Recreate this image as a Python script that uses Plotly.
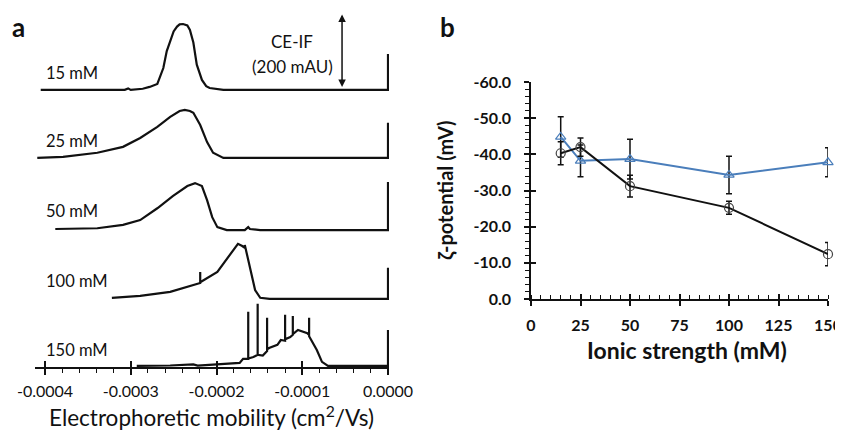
import plotly.graph_objects as go

W, H = 843, 431
OX, OY = 8, 8            # the page body margin shifts the figure by this much
FW, FH = W - OX, H - OY

# ---- panel a : CE-IF traces (mobility cm2/Vs, signal in mAU above each baseline)
labels_a = ['15 mM', '25 mM', '50 mM', '100 mM', '150 mM']
offsets_a = [749, 565, 370, 184, 3]   # vertical stacking of the traces (mAU)

mob_15 = [-0.000405, -0.000307, -0.000303, -0.000300, -0.000286, -0.000278, -0.000269,
          -0.000262, -0.000258, -0.000254, -0.000250, -0.000246, -0.000243, -0.000239,
          -0.000234, -0.000231, -0.000227, -0.000223, -0.000217, -0.000212, -0.000208,
          -0.000192, 0.0, 0.0]
sig_15 = [0, 0, 4, 0, 3, 8, 16, 59, 105, 132, 158, 171, 177, 178, 174, 162, 128, 68,
          27, 10, 5, 0, 0, 97]

mob_25 = [-0.000409, -0.000379, -0.000339, -0.000309, -0.000289, -0.000269, -0.000254,
          -0.000243, -0.000237, -0.000231, -0.000227, -0.000219, -0.000211, -0.000204,
          -0.000192, 0.0, 0.0]
sig_25 = [0, 3, 14, 30, 54, 84, 111, 127, 130, 127, 122, 89, 43, 14, 0, 0, 95]

mob_50 = [-0.000388, -0.000339, -0.000309, -0.000289, -0.000269, -0.000251, -0.000234,
          -0.000225, -0.000217, -0.000211, -0.000205, -0.000199, -0.000188, -0.000167,
          -0.000163, -0.000161, -0.000149, 0.0, 0.0]
sig_50 = [3, 5, 14, 27, 59, 92, 119, 127, 119, 81, 35, 8, 0, 0, 8, 3, 0, 0, 130]

mob_100 = [-0.000322, -0.000289, -0.000254, -0.000219, -0.000219, -0.000219, -0.000199,
           -0.000184, -0.000175, -0.000170, -0.000167, -0.000167, -0.000166, -0.000161,
           -0.000155, -0.000149, -0.000138, 0.0, 0.0]
sig_100 = [3, 8, 19, 43, 73, 45, 73, 119, 149, 143, 138, 146, 136, 78, 24, 3, 0, 0, 84]

mob_150 = [-0.000293, -0.000254, -0.000227, -0.000222, -0.000173, -0.000169,
           -0.000163, -0.000163, -0.000163, -0.000157, -0.000152, -0.000152, -0.000152,
           -0.000146, -0.000141, -0.000141, -0.000141, -0.000138, -0.000129, -0.000125,
           -0.000120, -0.000120, -0.000120, -0.000114, -0.000111, -0.000111, -0.000111,
           -0.000105, -0.000099, -0.000094, -0.000092, -0.000092, -0.000092, -0.000083,
           -0.000077, -0.000070, 0.0, 0.0]
sig_150 = [0, 1, 4, 1, 8, 19, 19, 146, 20, 24, 30, 168, 30, 28, 40, 130, 45, 49, 57, 70,
           68, 138, 72, 78, 84, 135, 86, 97, 92, 88, 84, 130, 80, 43, 11, 0, 0, 97]

mob_a = [mob_15, mob_25, mob_50, mob_100, mob_150]
sig_a = [sig_15, sig_25, sig_50, sig_100, sig_150]

ticks_a = [-0.0004, -0.0003, -0.0002, -0.0001, 0.0]
ticktext_a = ['-0.0004', '-0.0003', '-0.0002', '-0.0001', '0.0000']

# ---- panel b : zeta potential vs ionic strength
ionic = [15, 25, 50, 100, 150]
zeta_black = [-40.3, -42.0, -31.2, -25.2, -12.4]
err_black = [3.2, 2.5, 3.0, 1.8, 3.2]
zeta_blue = [-44.8, -38.2, -38.7, -34.3, -37.8]
err_blue = [5.6, 4.4, 5.5, 5.2, 4.0]

ticks_b_x = [0, 25, 50, 75, 100, 125, 150]
ticks_b_y = [0, -10, -20, -30, -40, -50, -60]
ticktext_b_y = ['0.0', '-10.0', '-20.0', '-30.0', '-40.0', '-50.0', '-60.0']

FONT = 'Lato'
INK = '#111111'
BLUE = '#4a7ebb'


def px(x):
    return (x - OX) / FW


def py(y):
    return 1 - (y - OY) / FH


fig = go.Figure()

for m, s, off in zip(mob_a, sig_a, offsets_a):
    fig.add_trace(go.Scatter(x=m, y=[v + off for v in s], mode='lines',
                             line=dict(color=INK, width=2.2), showlegend=False,
                             xaxis='x', yaxis='y'))
# helper trace so the overlay axis (inner half of the crossing ticks) is drawn
fig.add_trace(go.Scatter(x=[None], y=[None], xaxis='x3', yaxis='y', showlegend=False))

fig.add_trace(go.Scatter(x=ionic, y=zeta_blue, mode='lines+markers',
                         line=dict(color=BLUE, width=2),
                         marker=dict(symbol='triangle-up-open', size=9, color=BLUE,
                                     line=dict(width=1.2)),
                         error_y=dict(type='data', array=err_blue, color=INK,
                                      thickness=1.5, width=3),
                         cliponaxis=False, showlegend=False, xaxis='x2', yaxis='y2'))
fig.add_trace(go.Scatter(x=ionic, y=zeta_black, mode='lines+markers',
                         line=dict(color=INK, width=2),
                         marker=dict(symbol='circle-open', size=9, color='#444',
                                     line=dict(width=1.2)),
                         error_y=dict(type='data', array=err_black, color=INK,
                                      thickness=1.5, width=3),
                         cliponaxis=False, showlegend=False, xaxis='x2', yaxis='y2'))
fig.add_trace(go.Scatter(x=[None], y=[None], xaxis='x4', yaxis='y2', showlegend=False))
fig.add_trace(go.Scatter(x=[None], y=[None], xaxis='x2', yaxis='y3', showlegend=False))

xa_dom = [px(35), px(389)]
xa_rng = [-0.000411662, 0.00000117]
ya_dom = [py(367), 1]
ya_rng = [0, (367 - OY) * 200 / 74]

xb_dom = [px(531), px(828)]
yb_dom = [py(299), py(82)]

axis_common = dict(showgrid=False, zeroline=False, linecolor=INK, tickcolor=INK,
                   tickwidth=1.5, automargin=False)

fig.update_layout(
    width=FW, height=FH,
    margin=dict(l=0, r=0, t=0, b=0, pad=0),
    paper_bgcolor='white', plot_bgcolor='white',
    font=dict(family=FONT, color=INK),
    xaxis=dict(domain=xa_dom, range=xa_rng, anchor='y', showline=True, linewidth=1.5,
               tickmode='array', tickvals=ticks_a, ticktext=ticktext_a,
               ticks='outside', ticklen=6, ticklabelstandoff=3,
               tickfont=dict(size=16, color=INK),
               minor=dict(tickmode='linear', tick0=0, dtick=0.00002, ticks='outside',
                          ticklen=4, tickcolor=INK, tickwidth=1.2),
               **axis_common),
    xaxis3=dict(overlaying='x', domain=xa_dom, range=xa_rng, anchor='y', showline=False,
                tickmode='array', tickvals=ticks_a, ticks='inside', ticklen=6,
                showticklabels=False, **axis_common),
    yaxis=dict(domain=ya_dom, range=ya_rng, visible=False, anchor='x', automargin=False),
    xaxis2=dict(domain=xb_dom, range=[0, 150], anchor='y2', showline=True, linewidth=1.5,
                tickmode='array', tickvals=ticks_b_x,
                ticks='outside', ticklen=5, ticklabelstandoff=6,
                tickfont=dict(size=16, color=INK, weight='bold'),
                minor=dict(tickmode='linear', tick0=0, dtick=5, ticks='inside',
                           ticklen=4, tickcolor=INK, tickwidth=1.2),
                **axis_common),
    xaxis4=dict(overlaying='x2', domain=xb_dom, range=[0, 150], anchor='y2',
                showline=False, tickmode='array', tickvals=ticks_b_x,
                ticks='inside', ticklen=5, showticklabels=False, **axis_common),
    yaxis2=dict(domain=yb_dom, range=[0, -60], anchor='x2', showline=True, linewidth=1.5,
                tickmode='array', tickvals=ticks_b_y, ticktext=ticktext_b_y,
                ticks='outside', ticklen=5, ticklabelstandoff=10,
                tickfont=dict(size=16, color=INK, weight='bold'),
                minor=dict(tickmode='linear', tick0=0, dtick=2, ticks='outside',
                           ticklen=4, tickcolor=INK, tickwidth=1.2),
                **axis_common),
    yaxis3=dict(overlaying='y2', domain=yb_dom, range=[0, -60], anchor='x2',
                showline=False, tickmode='array', tickvals=ticks_b_y, ticks='inside',
                ticklen=5, showticklabels=False, **axis_common),
)

ann = []
ann.append(dict(text='<b>a</b>', x=px(18), y=py(27), font=dict(size=26)))
ann.append(dict(text='<b>b</b>', x=px(447), y=py(27), font=dict(size=26)))
label_y = [73, 141, 211, 281, 350]
for lab, ly in zip(labels_a, label_y):
    ann.append(dict(text=lab, x=px(44), y=py(ly), xanchor='left', font=dict(size=16.5)))
ann.append(dict(text='CE-IF', x=px(292), y=py(41), font=dict(size=17)))
ann.append(dict(text='(200 mAU)', x=px(292), y=py(67), font=dict(size=17)))
ann.append(dict(text='Electrophoretic mobility (cm<sup>2</sup>/Vs)', x=px(211), y=py(416),
                font=dict(size=22.5)))
ann.append(dict(text='<b>ζ-potential (mV)</b>', x=px(445), y=py(190), textangle=-90,
                font=dict(size=20)))
ann.append(dict(text='<b>Ionic strength (mM)</b>', x=px(687), y=py(350),
                font=dict(size=23)))
for a in ann:
    a.update(xref='paper', yref='paper', showarrow=False, xanchor=a.get('xanchor', 'center'),
             yanchor='middle')
    a['font'].setdefault('color', INK)

# 200 mAU scale bar (double arrow) next to the 15 mM trace
ann.append(dict(text='', xref='x', yref='y', axref='x', ayref='y',
                x=-0.0000536, y=offsets_a[0] + 204, ax=-0.0000536, ay=offsets_a[0] + 4,
                showarrow=True, arrowhead=2, arrowside='end+start', arrowsize=1,
                arrowwidth=1.5, arrowcolor=INK))

fig.update_layout(annotations=ann)
fig.write_html('out.html')
